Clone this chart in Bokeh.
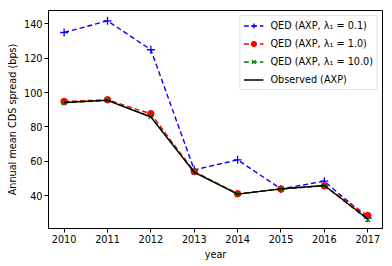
from bokeh.plotting import figure
from bokeh.models import Legend, LegendItem, FixedTicker, Range1d
from bokeh.embed import file_html
from bokeh.resources import INLINE

years = [2010, 2011, 2012, 2013, 2014, 2015, 2016, 2017]
qed_01 = [134.9, 141.7, 124.9, 55.1, 60.9, 44.0, 48.5, 27.0]
qed_1 = [94.8, 95.8, 87.7, 54.1, 41.2, 43.9, 45.8, 28.5]
qed_10 = [94.0, 95.5, 86.0, 54.0, 41.0, 44.0, 46.0, 26.2]
observed = [94.2, 95.5, 85.8, 53.6, 41.0, 44.0, 46.0, 26.5]
yticks = [40, 60, 80, 100, 120, 140]
labels = ["QED (AXP, λ₁ = 0.1)", "QED (AXP, λ₁ = 1.0)", "QED (AXP, λ₁ = 10.0)", "Observed (AXP)"]
x_title = "year"
y_title = "Annual mean CDS spread (bps)"

FONT = "DejaVu Sans"
FS = "9.7px"

p = figure(width=392, height=266, output_backend="svg", toolbar_location=None,
           x_range=Range1d(2009.64, 2017.34), y_range=Range1d(21.0, 147.7),
           min_border_left=48, min_border_right=10, min_border_top=10, min_border_bottom=38)
p.background_fill_color = "white"
p.border_fill_color = "white"
p.outline_line_color = "black"
p.outline_line_width = 1
p.xgrid.visible = False
p.ygrid.visible = False

r1l = p.line(years, qed_01, line_color="blue", line_dash="5 3", line_width=1.4)
r1m = p.scatter(years, qed_01, marker="cross", size=8, line_color="blue", line_width=1.3)
r2l = p.line(years, qed_1, line_color="red", line_dash="5 3", line_width=1.4)
r2m = p.scatter(years, qed_1, marker="circle", size=6.5, fill_color="red", line_color="red")
r3l = p.line(years, qed_10, line_color="green", line_dash="5 3", line_width=1.4)
r3m = p.scatter(years, qed_10, marker="x", size=6.5, line_color="green", line_width=1.3)
r4l = p.line(years, observed, line_color="black", line_width=1.4)

legend = Legend(items=[
    LegendItem(label=labels[0], renderers=[r1l, r1m]),
    LegendItem(label=labels[1], renderers=[r2l, r2m]),
    LegendItem(label=labels[2], renderers=[r3l, r3m]),
    LegendItem(label=labels[3], renderers=[r4l]),
], location="top_right")
legend.label_text_font = FONT
legend.label_text_font_size = FS
legend.label_text_color = "black"
legend.label_height = 13
legend.glyph_height = 13
legend.glyph_width = 20
legend.label_standoff = 7
legend.spacing = 5
legend.padding = 3
legend.margin = 5
legend.border_line_color = "#cccccc"
legend.background_fill_alpha = 0.8
p.add_layout(legend)

for ax in (p.xaxis[0], p.yaxis[0]):
    ax.major_label_text_font = FONT
    ax.major_label_text_font_size = FS
    ax.major_label_text_color = "black"
    ax.axis_label_text_font = FONT
    ax.axis_label_text_font_size = FS
    ax.axis_label_text_font_style = "normal"
    ax.axis_label_text_color = "black"
    ax.major_tick_in = 0
    ax.major_tick_out = 4
    ax.minor_tick_out = 0
    ax.minor_tick_in = 0
    ax.axis_line_color = "black"
    ax.major_label_standoff = 2
    ax.axis_label_standoff = 3

p.xaxis.ticker = FixedTicker(ticks=years)
p.yaxis.ticker = FixedTicker(ticks=yticks)
p.xaxis.axis_label = x_title
p.yaxis.axis_label = y_title

open("out.html", "w").write(file_html(p, INLINE))
